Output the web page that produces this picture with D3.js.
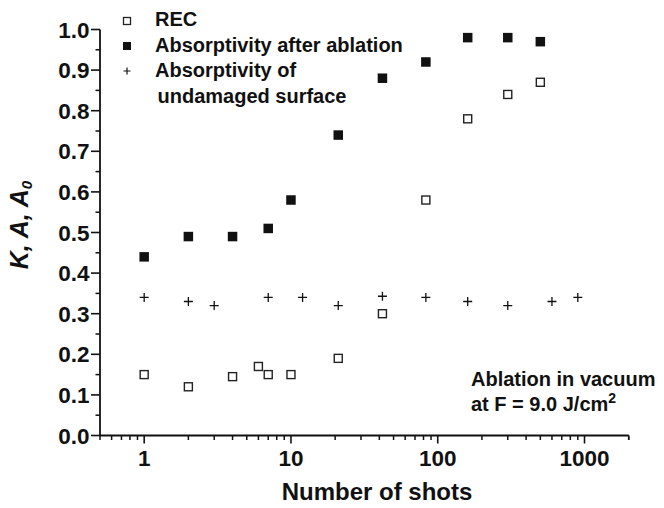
<!DOCTYPE html>
<html><head><meta charset="utf-8">
<script src="https://cdn.jsdelivr.net/npm/d3@7/dist/d3.min.js"></script>
<style>
body{margin:0;background:#fff;}
svg{display:block;font-family:"Liberation Sans",Arial,sans-serif;font-weight:bold;}
</style></head>
<body>
<svg id="c" width="664" height="508"></svg>
<script>
// Data
const recX = [1, 2, 4, 6, 7, 10, 21, 42, 83, 160, 300, 500];
const recY = [0.15, 0.12, 0.145, 0.17, 0.15, 0.15, 0.19, 0.30, 0.58, 0.78, 0.84, 0.87];
const ablX = [1, 2, 4, 7, 10, 21, 42, 83, 160, 300, 500];
const ablY = [0.44, 0.49, 0.49, 0.51, 0.58, 0.74, 0.88, 0.92, 0.98, 0.98, 0.97];
const undX = [1, 2, 3, 7, 12, 21, 42, 83, 160, 300, 600, 900];
const undY = [0.34, 0.33, 0.32, 0.34, 0.34, 0.32, 0.343, 0.34, 0.33, 0.32, 0.33, 0.34];
const xMajor = [1, 10, 100, 1000];
const yMajor = [0, 0.1, 0.2, 0.3, 0.4, 0.5, 0.6, 0.7, 0.8, 0.9, 1.0];
const legendLabels = ["REC", "Absorptivity after ablation", "Absorptivity of", " undamaged surface"];

const svg = d3.select("#c");
const ink = "#111";
const x = d3.scaleLog().domain([0.5, 2000]).range([100, 628.7]);
const y = d3.scaleLinear().domain([0, 1]).range([435.5, 29.5]);

// minor ticks
const xMinor = [];
[0.1, 1, 10, 100, 1000].forEach(d => { for (let k = 2; k <= 9; k++) { const v = d * k; if (v >= 0.5 && v <= 2000 && !xMajor.includes(v)) xMinor.push(v); } });
xMinor.push(2000);
const yMinor = d3.range(0.05, 1.0, 0.1);

// X axis
const gx = svg.append("g").attr("transform", "translate(0,435.5)");
gx.append("line").attr("x1", 100).attr("x2", 628.7).attr("stroke", ink).attr("stroke-width", 1.8);
gx.selectAll(".mn").data(xMinor).join("line").attr("x1", d => x(d)).attr("x2", d => x(d)).attr("y1", 0).attr("y2", 4.5).attr("stroke", ink).attr("stroke-width", 1.5);
gx.selectAll(".mj").data(xMajor).join("line").attr("x1", d => x(d)).attr("x2", d => x(d)).attr("y1", 0).attr("y2", 8).attr("stroke", ink).attr("stroke-width", 1.6);
gx.selectAll("text").data(xMajor).join("text").attr("x", d => x(d)).attr("y", 30.5).attr("text-anchor", "middle").attr("font-size", 22.5).attr("fill", ink).text(d => d3.format("d")(d));

// Y axis
const gy = svg.append("g").attr("transform", "translate(100,0)");
gy.append("line").attr("y1", y(0)).attr("y2", y(1)).attr("stroke", ink).attr("stroke-width", 1.8);
gy.selectAll(".mn").data(yMinor).join("line").attr("y1", d => y(d)).attr("y2", d => y(d)).attr("x1", 0).attr("x2", -4.5).attr("stroke", ink).attr("stroke-width", 1.5);
gy.selectAll(".mj").data(yMajor).join("line").attr("y1", d => y(d)).attr("y2", d => y(d)).attr("x1", 0).attr("x2", -9).attr("stroke", ink).attr("stroke-width", 1.6);
gy.selectAll("text").data(yMajor).join("text").attr("x", -10.5).attr("y", d => y(d) + 8).attr("text-anchor", "end").attr("font-size", 22.5).attr("fill", ink).text(d => d3.format(".1f")(d));

// Axis titles
svg.append("text").attr("x", 377).attr("y", 500).attr("text-anchor", "middle").attr("font-size", 24).attr("fill", ink).text("Number of shots");
const yt = svg.append("text").attr("transform", "translate(28,225) rotate(-90)").attr("text-anchor", "middle").attr("font-size", 25).attr("font-style", "italic").attr("fill", ink);
yt.append("tspan").text("K, A, A");
yt.append("tspan").attr("font-size", 15).attr("dy", 4).text("0");

// Marks
const s = 9;
svg.selectAll(".und").data(undX.map((d, i) => [d, undY[i]])).join("path")
  .attr("d", d => `M${x(d[0]) - 4.5},${y(d[1])}h9M${x(d[0])},${y(d[1]) - 4.5}v9`).attr("stroke", ink).attr("stroke-width", 1.3).attr("fill", "none");
svg.selectAll(".rec").data(recX.map((d, i) => [d, recY[i]])).join("rect")
  .attr("x", d => x(d[0]) - s / 2 + 0.5).attr("y", d => y(d[1]) - s / 2 + 0.5).attr("width", s - 1).attr("height", s - 1)
  .attr("fill", "#fff").attr("stroke", "#222").attr("stroke-width", 1.4);
svg.selectAll(".abl").data(ablX.map((d, i) => [d, ablY[i]])).join("rect")
  .attr("x", d => x(d[0]) - 4.75).attr("y", d => y(d[1]) - 4.75).attr("width", 9.5).attr("height", 9.5).attr("fill", ink);

// Legend
const lg = svg.append("g");
const lyy = [26, 51.5, 77, 103];
lg.append("rect").attr("x", 123.5).attr("y", 17.5).attr("width", 7).attr("height", 7).attr("fill", "#fff").attr("stroke", "#222").attr("stroke-width", 1.3);
lg.append("rect").attr("x", 123).attr("y", 42).attr("width", 8).attr("height", 8).attr("fill", ink);
lg.append("path").attr("d", "M123.5,71h7M127,67.5v7").attr("stroke", ink).attr("stroke-width", 1.2);
lg.selectAll("text").data(legendLabels).join("text").attr("x", (d, i) => i === 3 ? 157.5 : 155).attr("y", (d, i) => lyy[i])
  .attr("font-size", 20).attr("fill", ink).text(d => d.trim());

// Annotation
svg.append("text").attr("x", 471).attr("y", 386).attr("font-size", 20).attr("fill", ink).text("Ablation in vacuum");
const an = svg.append("text").attr("x", 471).attr("y", 411).attr("font-size", 20).attr("fill", ink);
an.append("tspan").text("at F = 9.0 J/cm");
an.append("tspan").attr("font-size", 14).attr("dy", -8).text("2");
</script>
</body></html>
